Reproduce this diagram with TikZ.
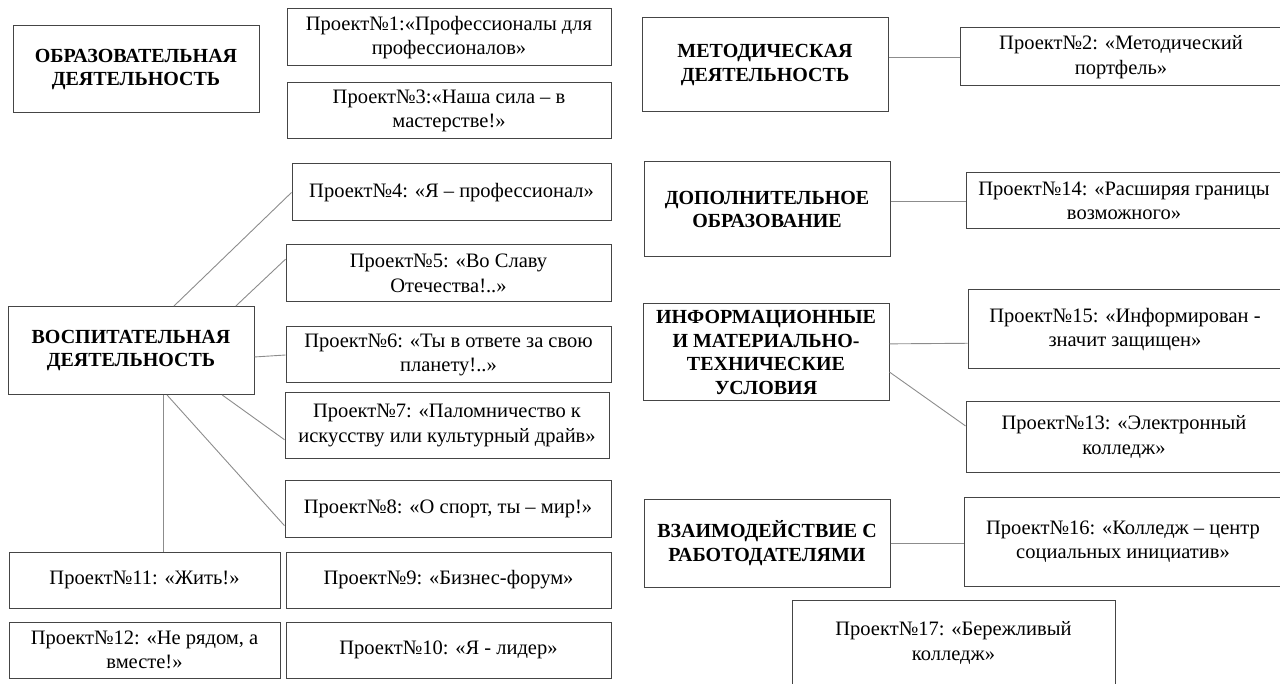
\documentclass[tikz,border=0pt]{standalone}
\usepackage{fontspec}
\setmainfont{Liberation Serif}
\definecolor{boxline}{HTML}{454545}
\definecolor{linkline}{HTML}{8C8C8C}

\begin{document}
\begin{tikzpicture}[x=1pt,y=-1pt,
    area/.style={draw=boxline, line width=1pt, align=center, inner sep=2pt,
        font=\fontsize{20}{23.5}\selectfont\bfseries},
    proj/.style={draw=boxline, line width=1pt, align=center, inner sep=2pt,
        font=\fontsize{20.5}{24.5}\selectfont},
    link/.style={draw=linkline, line width=0.9pt}]

\useasboundingbox (0,0) rectangle (1280,684);
\clip (0,0) rectangle (1280,684);

% left column
\node[area, minimum width=246pt, minimum height=87pt] (obr) at (136,69.5) {ОБРАЗОВАТЕЛЬНАЯ\\ДЕЯТЕЛЬНОСТЬ};
\node[proj, minimum width=324pt, minimum height=57pt] (p1) at (449,37.5) {Проект№1:«Профессионалы для\\профессионалов»};
\node[proj, minimum width=324pt, minimum height=56pt] (p3) at (449,111) {Проект№3:«Наша сила – в\\мастерстве!»};

\node[area, minimum width=246pt, minimum height=88pt] (vos) at (131,350.5) {ВОСПИТАТЕЛЬНАЯ\\ДЕЯТЕЛЬНОСТЬ};
\node[proj, minimum width=319pt, minimum height=57pt] (p4) at (451.5,192.5) {Проект№4: «Я – профессионал»};
\node[proj, minimum width=325pt, minimum height=57pt] (p5) at (448.5,273.5) {Проект№5: «Во Славу\\Отечества!..»};
\node[proj, minimum width=325pt, minimum height=56pt] (p6) at (448.5,355) {Проект№6: «Ты в ответе за свою\\планету!..»};
\node[proj, minimum width=324pt, minimum height=65pt] (p7) at (447,425.5) {Проект№7: «Паломничество к\\искусству или культурный драйв»};
\node[proj, minimum width=326pt, minimum height=57pt] (p8) at (448,508.5) {Проект№8: «О спорт, ты – мир!»};
\node[proj, minimum width=271pt, minimum height=56pt] (p11) at (144.5,580) {Проект№11: «Жить!»};
\node[proj, minimum width=325pt, minimum height=56pt] (p9) at (448.5,580) {Проект№9: «Бизнес-форум»};
\node[proj, minimum width=271pt, minimum height=56pt] (p12) at (144.5,650) {Проект№12: «Не рядом, а\\вместе!»};
\node[proj, minimum width=325pt, minimum height=56pt] (p10) at (448.5,650) {Проект№10: «Я - лидер»};

% right column
\node[area, minimum width=246pt, minimum height=94pt] (met) at (765,65) {МЕТОДИЧЕСКАЯ\\ДЕЯТЕЛЬНОСТЬ};
\node[proj, minimum width=322pt, minimum height=58pt] (p2) at (1121,57) {Проект№2: «Методический\\портфель»};
\node[area, minimum width=246pt, minimum height=95pt] (dop) at (767,209.5) {ДОПОЛНИТЕЛЬНОЕ\\ОБРАЗОВАНИЕ};
\node[proj, minimum width=316pt, minimum height=56pt] (p14) at (1124,201) {Проект№14: «Расширяя границы\\возможного»};
\node[area, minimum width=246pt, minimum height=97pt] (info) at (766,352.5) {ИНФОРМАЦИОННЫЕ\\И МАТЕРИАЛЬНО-\\ТЕХНИЧЕСКИЕ\\УСЛОВИЯ};
\node[proj, minimum width=314pt, minimum height=79pt] (p15) at (1125,329.5) {Проект№15: «Информирован -\\значит защищен»};
\node[proj, minimum width=316pt, minimum height=70pt] (p13) at (1124,437) {Проект№13: «Электронный\\колледж»};
\node[area, minimum width=246pt, minimum height=88pt] (vz) at (767,543) {ВЗАИМОДЕЙСТВИЕ С\\РАБОТОДАТЕЛЯМИ};
\node[proj, minimum width=318pt, minimum height=89pt] (p16) at (1123,541.5) {Проект№16: «Колледж – центр\\социальных инициатив»};
\node[proj, minimum width=323pt, minimum height=86pt] (p17) at (953.5,643) {Проект№17: «Бережливый\\колледж»};

% links
\draw[link] (vos.46) -- (p4.west);
\draw[link] (vos.23.5) -- (p5.175);
\draw[link] (vos.-3) -- (p6.west);
\draw[link] (vos.-26) -- (p7.185);
\draw[link] (vos.-51) -- (p8.186);
\draw[link] (vos.-54) -- (vos.-54 |- p11.north);

\draw[link] (met.east |- p2.west) -- (p2.west);
\draw[link] (dop.east |- p14.west) -- (p14.west);
\draw[link] (info.4) -- (p15.185);
\draw[link] (info.-9) -- (p13.176);
\draw[link] (vz.east) -- (vz.east -| p16.west);
\end{tikzpicture}
\end{document}
